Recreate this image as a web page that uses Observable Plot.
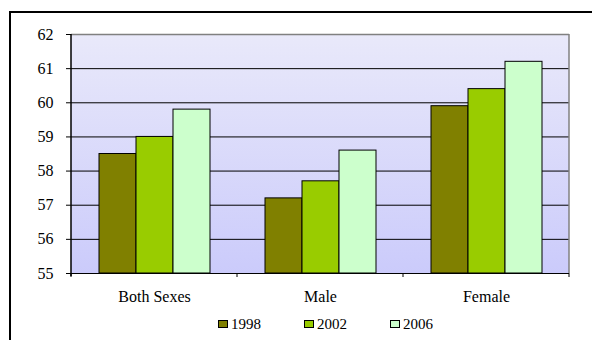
<!DOCTYPE html>
<html>
<head>
<meta charset="utf-8">
<script src="https://cdn.jsdelivr.net/npm/d3@7"></script>
<script src="https://cdn.jsdelivr.net/npm/@observablehq/plot@0.6"></script>
<style>
  body { margin: 0; background: #fff; }
  #wrap { position: relative; width: 592px; height: 340px; overflow: hidden; background: #fff; font-family: "Liberation Serif", "Times New Roman", "DejaVu Serif", serif; }
  #border { position: absolute; left: 9px; top: 11px; width: 700px; height: 400px; border-top: 2px solid #000; border-left: 2px solid #000; }
  #chart { position: absolute; left: 0; top: 0; }
  #legend { position: absolute; top: 315px; left: 218px; display: flex; font-size: 15px; line-height: 18px; color: #000; }
  .item { width: 86px; display: flex; align-items: center; }
  .sw { width: 8px; height: 6px; border: 1px solid #000; margin-right: 3px; }
  #chart svg text { font-family: "Liberation Serif", "Times New Roman", "DejaVu Serif", serif !important; }
</style>
</head>
<body>
<div id="wrap">
  <div id="border"></div>
  <div id="chart"></div>
  <div id="legend"></div>
</div>
<script>
const categories = ["Both Sexes", "Male", "Female"];
const years = ["1998", "2002", "2006"];
const v1998 = [58.5, 57.2, 59.9];
const v2002 = [59.0, 57.7, 60.4];
const v2006 = [59.8, 58.6, 61.2];
const colors = ["#808000", "#99cc00", "#ccffcc"];
const yTicks = [55, 56, 57, 58, 59, 60, 61, 62];

const series = [v1998, v2002, v2006];
const data = categories.flatMap((c, i) => years.map((yr, j) => ({cat: c, year: yr, value: series[j][i]})));
const yMin = yTicks[0], yMax = yTicks[yTicks.length - 1];

const plot = Plot.plot({
  width: 592, height: 310,
  marginLeft: 71, marginRight: 23, marginTop: 34, marginBottom: 37,
  style: {fontFamily: "Liberation Serif, Times New Roman, serif", fontSize: "16px", color: "#000", background: "transparent", overflow: "visible"},
  fx: {domain: categories, padding: 0, axis: "bottom", tickSize: 0, tickPadding: 17, label: null},
  x: {domain: years, axis: null, paddingInner: 0, paddingOuter: 0.725},
  y: {domain: [yMin, yMax], ticks: yTicks, tickSize: 5, tickPadding: 13, label: null, tickFormat: d => String(d)},
  color: {domain: years, range: colors},
  marks: [
    Plot.ruleY(yTicks.slice(1, -1), {stroke: "#000", strokeWidth: 1}),
    Plot.ruleY([yMax], {stroke: "#808080", strokeWidth: 1.5}),
    Plot.barY(data, {fx: "cat", x: "year", y1: yMin, y2: "value", fill: "year", stroke: "#000", strokeWidth: 1}),
    Plot.ruleY([yMin], {stroke: "#000", strokeWidth: 1})
  ]
});

// decorations derived from the plot's scales
const svg = d3.select(plot);
const fxs = plot.scale("fx"), ys = plot.scale("y");
const bounds = categories.map(c => fxs.apply(c));
bounds.push(fxs.apply(categories[categories.length - 1]) + fxs.bandwidth);
const pLeft = bounds[0], pRight = bounds[bounds.length - 1];
const pTop = ys.apply(yMax), pBottom = ys.apply(yMin);

const defs = svg.insert("defs", ":first-child");
const grad = defs.append("linearGradient").attr("id", "bg").attr("x1", 0).attr("y1", 0).attr("x2", 0).attr("y2", 1);
grad.append("stop").attr("offset", "0%").attr("stop-color", "#e9e9fa");
grad.append("stop").attr("offset", "100%").attr("stop-color", "#cbcbfb");
svg.insert("rect", "g").attr("x", pLeft).attr("y", pTop).attr("width", pRight - pLeft).attr("height", pBottom - pTop).attr("fill", "url(#bg)");

const deco = svg.append("g");
deco.append("line").attr("x1", pRight).attr("x2", pRight).attr("y1", pTop).attr("y2", pBottom).attr("stroke", "#808080").attr("stroke-width", 1.5);
deco.append("line").attr("x1", pLeft).attr("x2", pLeft).attr("y1", pTop).attr("y2", pBottom + 3).attr("stroke", "#000").attr("stroke-width", 1.5);
bounds.forEach(b => deco.append("line").attr("x1", b).attr("x2", b).attr("y1", pBottom).attr("y2", pBottom + 4).attr("stroke", "#000"));

document.getElementById("chart").appendChild(plot);

const legend = document.getElementById("legend");
years.forEach((yr, i) => {
  const it = document.createElement("div"); it.className = "item";
  const sw = document.createElement("span"); sw.className = "sw"; sw.style.background = colors[i];
  const t = document.createElement("span"); t.textContent = yr;
  it.appendChild(sw); it.appendChild(t); legend.appendChild(it);
});
</script>
</body>
</html>
